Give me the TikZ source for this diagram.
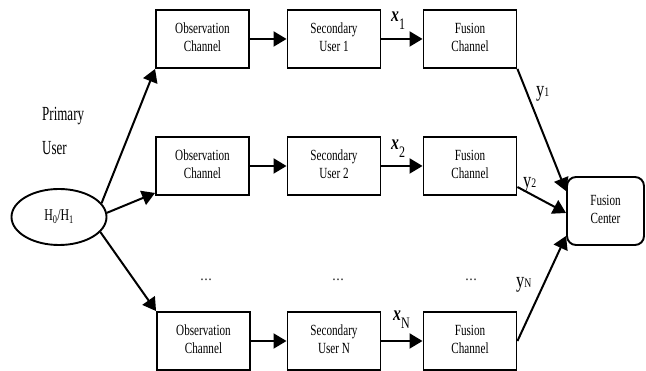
\documentclass[tikz,border=0pt]{standalone}
\usepackage{fontspec}
\usepackage{graphicx}
\setmainfont{Liberation Serif}
\usetikzlibrary{arrows.meta,shapes.geometric}
\newcommand\sqz[2][0.72]{\scalebox{#1}[1]{\begin{tabular}{@{}c@{}}#2\end{tabular}}}
\newcommand\xlab[1]{\scalebox{0.75}[1]{\fontsize{21}{21}\selectfont\textbf{\textit{x}}\raisebox{-8pt}{\fontsize{16}{16}\selectfont #1}}}
\newcommand\ylab[1]{\scalebox{0.75}[1]{\fontsize{22}{22}\selectfont y\raisebox{0pt}{\fontsize{13}{13}\selectfont #1}}}
\begin{document}
\begin{tikzpicture}[x=1pt,y=-1pt,
  box/.style={draw,line width=1.9pt,minimum width=93pt,minimum height=58pt,inner sep=0pt,font=\fontsize{15.5}{18}\selectfont},
  arr/.style={line width=2pt,-{Triangle[length=13pt,width=15pt]}},
  txt/.style={inner sep=0pt,anchor=base west}]
\useasboundingbox (0,0) rectangle (646,371);
% row 1
\node[box] (o1) at (202.5,39) {\sqz{Observation\\Channel}};
\node[box] (s1) at (334,39) {\sqz{Secondary\\User 1}};
\node[box] (f1) at (470,39) {\sqz{Fusion\\Channel}};
% row 2
\node[box] (o2) at (202.5,166) {\sqz{Observation\\Channel}};
\node[box] (s2) at (334,166) {\sqz{Secondary\\User 2}};
\node[box] (f2) at (470,166) {\sqz{Fusion\\Channel}};
% row 3
\node[box] (o3) at (203.5,341) {\sqz{Observation\\Channel}};
\node[box] (s3) at (334,341) {\sqz{Secondary\\User N}};
\node[box] (f3) at (470,341) {\sqz{Fusion\\Channel}};
% fusion center
\node[draw,rounded corners=9pt,line width=1.9pt,minimum width=77pt,minimum height=68pt,inner sep=0pt,font=\fontsize{15.5}{18}\selectfont] (fc) at (605.5,211) {\sqz{Fusion\\Center}};
% hypothesis
\node[draw,ellipse,line width=1.9pt,minimum width=95pt,minimum height=56pt,inner sep=0pt,font=\fontsize{16.5}{18}\selectfont] (h) at (59,217) {\sqz{H\textsubscript{0}/H\textsubscript{1}}};
% primary user
\node[txt,font=\fontsize{20}{22}\selectfont] (pu1) at (42,121) {\scalebox{0.65}[1]{Primary}};
\node[txt,font=\fontsize{20}{22}\selectfont] (pu2) at (42,155) {\scalebox{0.65}[1]{User}};
% dots
\node[font=\fontsize{15}{18}\selectfont] (d1) at (206,280) {\scalebox{0.8}[1]{\dots}};
\node[font=\fontsize{15}{18}\selectfont] (d2) at (338,280) {\scalebox{0.8}[1]{\dots}};
\node[font=\fontsize{15}{18}\selectfont] (d3) at (471,280) {\scalebox{0.8}[1]{\dots}};
% arrows
\draw[arr] (h.18) -- (o1.south west);
\draw[arr] (h.5) -- ([yshift=3pt]o2.south west);
\draw[arr] (h.-20) -- (o3.north west);
\draw[arr] (o1) -- (s1);
\draw[arr] (s1) -- (f1);
\draw[arr] (o2) -- (s2);
\draw[arr] (s2) -- (f2);
\draw[arr] (o3) -- (s3);
\draw[arr] (s3) -- (f3);
\draw[arr] (f1.south east) -- ([yshift=-15pt]fc.north west);
\draw[arr] ([yshift=-21pt]f2.east) -- ([yshift=-2pt]fc.west);
\draw[arr] (f3.east) -- ([yshift=10pt]fc.south west);
% labels
\node[txt] (x1) at (391,22) {\xlab{1}};
\node[txt] (x2) at (391,150) {\xlab{2}};
\node[txt] (xn) at (393,321) {\xlab{N}};
\node[txt] (y1) at (536,97) {\ylab{1}};
\node[txt] (y2) at (523,188) {\ylab{2}};
\node[txt] (yn) at (516,288) {\ylab{N}};
\end{tikzpicture}
\end{document}
